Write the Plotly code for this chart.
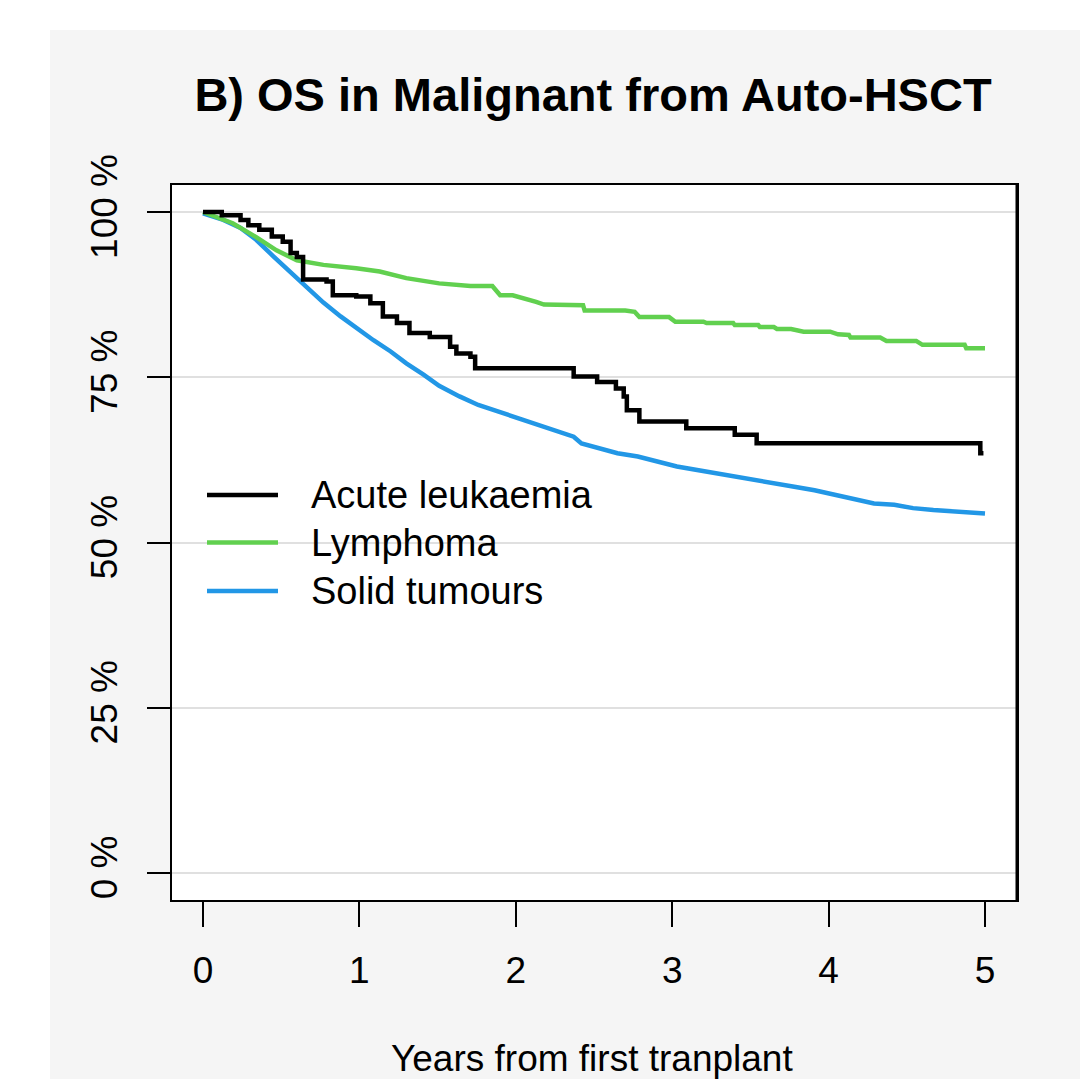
import plotly.graph_objects as go

# ---------------- data ----------------
years_ticks = [0, 1, 2, 3, 4, 5]
pct_ticks = [0, 25, 50, 75, 100]
pct_labels = ["0 %", "25 %", "50 %", "75 %", "100 %"]

leuk_t = [0, 0.12, 0.24, 0.29, 0.36, 0.44, 0.51, 0.56, 0.60, 0.64, 0.79, 0.83, 0.98, 1.07,
          1.15, 1.24, 1.32, 1.45, 1.58, 1.62, 1.71, 1.74, 2.37, 2.52, 2.64, 2.69, 2.71, 2.79,
          3.09, 3.40, 3.54, 4.97, 4.99]
leuk_s = [100, 99.5, 98.8, 98.0, 97.3, 96.3, 95.5, 93.8, 93.2, 89.8, 89.5, 87.4, 87.2, 86.2,
          84.2, 83.2, 81.7, 81.1, 79.6, 78.6, 78.1, 76.35, 75.1, 74.3, 73.3, 72.1, 70.0, 68.3,
          67.3, 66.3, 65.0, 63.5, 63.5]

lymph_t = [0, 0.19, 0.34, 0.47, 0.60, 0.77, 0.98, 1.13, 1.30, 1.51, 1.71, 1.85, 1.90, 1.98,
           2.13, 2.18, 2.43, 2.44, 2.70, 2.76, 2.79, 2.98, 3.02, 3.20, 3.22, 3.39, 3.40, 3.55,
           3.56, 3.65, 3.67, 3.76, 3.84, 4.01, 4.06, 4.13, 4.14, 4.33, 4.37, 4.56, 4.60, 4.87,
           4.88, 5.00]
lymph_s = [100, 98.3, 96.2, 94.2, 92.7, 92.0, 91.5, 91.0, 90.0, 89.2, 88.8, 88.8, 87.4, 87.4,
           86.4, 86.0, 85.9, 85.1, 85.1, 84.9, 84.1, 84.1, 83.4, 83.4, 83.2, 83.2, 82.9, 82.9,
           82.6, 82.6, 82.3, 82.3, 81.9, 81.9, 81.5, 81.4, 81.0, 81.0, 80.5, 80.5, 79.9, 79.9,
           79.4, 79.4]

solid_t = [0, 0.13, 0.24, 0.34, 0.45, 0.56, 0.66, 0.77, 0.88, 0.98, 1.09, 1.20, 1.30, 1.41,
           1.51, 1.64, 1.76, 1.89, 2.02, 2.14, 2.27, 2.37, 2.42, 2.52, 2.65, 2.78, 2.90, 3.03,
           3.15, 3.28, 3.41, 3.53, 3.66, 3.79, 3.91, 4.04, 4.17, 4.29, 4.42, 4.54, 4.67, 4.80,
           5.00]
solid_s = [99.8, 98.8, 97.6, 95.8, 93.3, 90.9, 88.5, 86.3, 84.2, 82.4, 80.6, 78.9, 77.1, 75.4,
           73.7, 72.1, 70.8, 69.8, 68.8, 67.8, 66.8, 66.0, 65.0, 64.3, 63.5, 63.0, 62.2, 61.5,
           61.0, 60.5, 60.0, 59.5, 59.0, 58.4, 57.9, 57.2, 56.4, 55.9, 55.7, 55.2, 54.9, 54.7,
           54.4]

series_names = ["Acute leukaemia", "Lymphoma", "Solid tumours"]
series_colors = ["#000000", "#61D04F", "#2297E6"]

FONT = "Arial, Liberation Sans, sans-serif"
LW = 4.5

# ---------------- figure ----------------
fig = go.Figure()
fig.add_trace(go.Scatter(x=solid_t, y=solid_s, mode="lines", name=series_names[2],
                         line=dict(color=series_colors[2], width=LW), showlegend=False))
fig.add_trace(go.Scatter(x=lymph_t, y=lymph_s, mode="lines", name=series_names[1],
                         line=dict(color=series_colors[1], width=LW), showlegend=False))
fig.add_trace(go.Scatter(x=leuk_t, y=leuk_s, mode="lines", name=series_names[0],
                         line=dict(color=series_colors[0], width=LW, shape="hv"),
                         showlegend=False))

OFF = 8  # page body margin
W, H = 1088 - OFF, 1079 - OFF
# plot box in screen pixels
SL, SR, ST, SB = 172, 1017, 185, 900
L, R, T, B = SL - OFF, SR - OFF, ST - OFF, SB - OFF


def px(xs):
    return (xs - SL) / (SR - SL)


def py(ys):
    return (SB - ys) / (SB - ST)


shapes = [
    # white strips outside the grey panel
    dict(type="rect", xref="paper", yref="paper", x0=px(0), x1=px(1100), y0=py(30), y1=py(0),
         fillcolor="white", line=dict(width=0), layer="above"),
    dict(type="rect", xref="paper", yref="paper", x0=px(0), x1=px(50), y0=py(1100), y1=py(0),
         fillcolor="white", line=dict(width=0), layer="above"),
    # slightly heavier right border as in the reference
    dict(type="line", xref="paper", yref="paper", x0=1, x1=1, y0=0, y1=1,
         line=dict(color="black", width=3), layer="above"),
]

annotations = []
legend_y = [495, 542.5, 591]
for name, col, yy in zip(series_names, series_colors, legend_y):
    shapes.append(dict(type="line", xref="paper", yref="paper", x0=px(207), x1=px(278),
                       y0=py(yy), y1=py(yy), line=dict(color=col, width=LW)))
    annotations.append(dict(text=name, xref="paper", yref="paper", x=px(309), y=py(yy),
                            xanchor="left", yanchor="middle", showarrow=False,
                            font=dict(family=FONT, size=38, color="black")))

annotations.append(dict(text="Years from first tranplant", xref="paper", yref="paper",
                        x=px(592), y=py(1058), xanchor="center", yanchor="middle",
                        showarrow=False, font=dict(family=FONT, size=37, color="black")))

fig.update_layout(
    width=W, height=H,
    margin=dict(l=L, r=W - R, t=T, b=H - B, pad=0),
    paper_bgcolor="#f5f5f5",
    plot_bgcolor="white",
    title=dict(text="<b>B) OS in Malignant from Auto-HSCT</b>", x=px(593), xref="paper",
               xanchor="center", y=1 - (95 - OFF) / H, yref="container", yanchor="middle",
               font=dict(family=FONT, size=47, color="black")),
    shapes=shapes,
    annotations=annotations,
    showlegend=False,
)

x_per = (985 - 203) / 5.0
fig.update_xaxes(
    range=[-(203 - SL) / x_per, 5 + (SR - 985) / x_per],
    tickvals=years_ticks, ticktext=[str(v) for v in years_ticks],
    showgrid=False, zeroline=False,
    showline=True, mirror=True, linecolor="black", linewidth=2,
    ticks="outside", ticklen=25, tickwidth=2, tickcolor="black",
    tickfont=dict(family=FONT, size=37, color="black"),
    ticklabelstandoff=12,
)
y_per = (873 - 212) / 100.0
fig.update_yaxes(
    range=[-(SB - 873) / y_per, 100 + (212 - ST) / y_per],
    tickvals=pct_ticks, ticktext=pct_labels, tickangle=-90,
    showgrid=True, gridcolor="#e0e0e0", gridwidth=2, zeroline=False,
    showline=True, mirror=True, linecolor="black", linewidth=2,
    ticks="outside", ticklen=23, tickwidth=2, tickcolor="black",
    tickfont=dict(family=FONT, size=37, color="black"),
    ticklabelstandoff=15,
)

fig.write_html("out.html")
